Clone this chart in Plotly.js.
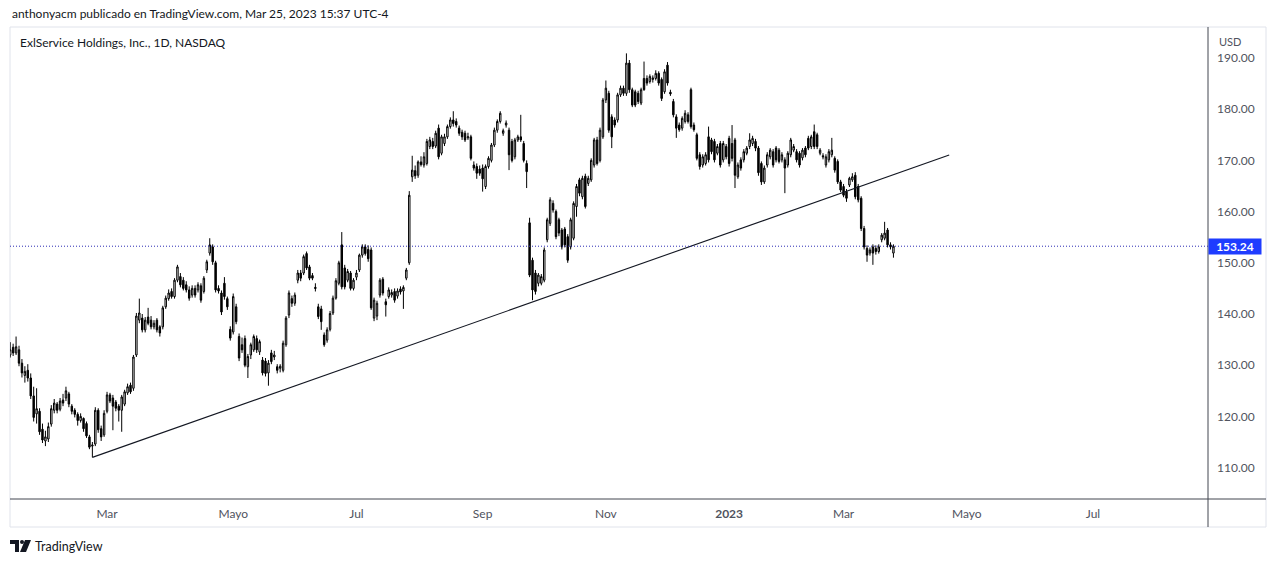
<!DOCTYPE html>
<html>
<head>
<meta charset="utf-8">
<script src="https://cdn.plot.ly/plotly-3.0.1.min.js"></script>
<style>
  html, body { margin:0; padding:0; background:#ffffff; }
  #chart { width:1274px; height:563px; position:absolute; left:0; top:0; }
  #logo { position:absolute; left:10px; top:540px; }
</style>
</head>
<body>
<div id="chart"></div>
<svg id="logo" width="22" height="12" viewBox="0 0 22 12">
  <path d="M0 0 H9 V12 H5 V4 H0 Z" fill="#131722"/>
  <circle cx="12" cy="2" r="2" fill="#131722"/>
  <path d="M15 0 H21 L16 12 H10 Z" fill="#131722"/>
</svg>
<script>
// ---------- DATA ----------
const HOLIDAYS = ['2022-01-17','2022-02-21','2022-04-15','2022-05-30','2022-06-20','2022-07-04',
  '2022-09-05','2022-11-24','2022-12-26','2023-01-02','2023-01-16','2023-02-20','2023-04-07',
  '2023-05-29','2023-06-19','2023-07-04'];
const FIRST_DAY = '2022-01-11';
const LAST_DAY = '2023-03-24';

const openP = [
 132.0,133.5,132.4,133.0,130.4,128.0,129.0,127.5,124.0,120.5,121.0,117.5,115.2,115.6,
 118.5,121.2,122.4,121.4,123.2,123.6,124.4,122.0,121.2,120.4,119.2,119.6,118.6,116.0,114.2,114.6,121.2,117.6,116.4,
 121.0,124.2,123.6,122.8,122.0,121.2,122.4,124.6,126.1,125.5,132.0,138.8,139.2,136.9,139.4,138.8,137.5,138.8,137.5,137.5,141.4,143.0,144.4,
 143.4,146.6,147.3,146.6,145.7,144.7,143.7,145.0,144.7,145.5,144.4,148.6,151.9,153.1,150.0,145.0,144.1,146.0,143.0,137.0,
 136.5,141.4,135.6,134.0,135.2,129.7,132.0,133.0,135.2,132.6,131.0,130.8,128.5,132.4,131.6,129.7,129.4,129.0,134.0,139.8,143.0,
 142.1,146.6,148.0,148.0,151.8,149.2,147.5,145.2,141.4,141.0,135.9,134.9,137.0,140.2,143.1,146.0,153.5,149.0,146.6,148.0,145.0,
 147.2,148.6,151.5,153.1,152.6,152.5,139.2,139.6,143.7,146.8,142.4,143.4,143.7,144.4,143.5,144.9,144.5,147.0,150.0,166.8,
 168.0,167.1,169.7,169.1,169.4,172.7,173.7,172.8,176.3,171.4,173.3,174.6,176.6,177.9,177.6,176.3,175.5,175.3,174.4,174.6,169.1,168.8,168.3,
 168.5,164.9,168.8,170.0,173.0,175.9,177.6,175.3,176.9,175.9,173.7,170.7,174.0,174.6,173.3,169.4,157.8,150.5,148.0,146.0,146.0,
 146.6,154.5,157.7,161.6,160.0,158.4,156.4,156.6,155.1,153.1,154.8,161.0,166.2,162.9,166.9,165.5,166.2,169.1,174.0,170.0,174.6,
 181.8,183.1,178.5,177.9,177.9,182.8,184.1,183.1,189.0,183.8,183.4,183.1,181.2,186.0,186.0,185.4,185.8,186.0,187.0,185.8,183.4,
 188.6,183.3,181.5,178.5,176.9,176.3,177.6,178.9,183.8,176.9,175.0,171.1,169.1,169.4,174.6,174.0,173.7,171.4,173.3,170.1,172.7,
 174.3,173.3,174.0,166.8,170.1,170.1,171.4,172.7,173.3,173.7,172.4,169.4,165.8,169.1,170.7,171.7,172.4,172.0,170.1,170.1,
 169.1,171.1,172.0,171.7,171.4,170.5,172.4,174.3,172.7,175.6,175.0,171.4,170.9,169.1,170.1,171.1,170.4,169.8,165.8,
 164.9,163.9,165.2,166.2,167.1,164.9,162.6,156.7,152.8,151.9,153.1,152.8,152.2,154.5,154.8,156.4,153.5,151.9
];
const highP = [
 134.5,134.2,135.6,133.8,131.2,129.8,130.2,128.4,125.8,125.5,121.6,118.6,117.2,118.8,
 122.2,123.4,122.8,123.6,124.4,125.8,124.8,122.4,121.6,120.8,120.6,119.8,119.0,116.4,115.0,121.8,121.6,118.2,121.2,
 124.8,124.6,124.2,123.2,122.4,124.2,125.2,126.4,126.6,132.0,140.2,143.0,140.0,139.4,141.2,139.6,138.8,139.2,137.8,141.6,143.6,144.8,145.0,
 147.0,149.6,148.0,147.2,146.4,145.4,145.6,145.6,146.2,146.0,147.4,150.6,154.8,153.6,150.4,145.6,144.6,147.2,143.4,137.6,
 144.0,142.0,136.2,135.4,135.8,132.2,134.4,136.0,135.8,135.0,131.6,131.4,131.0,133.0,132.8,130.2,130.2,134.8,139.6,144.6,143.6,
 144.2,148.6,148.6,151.6,152.2,149.6,148.0,146.0,142.0,141.6,136.4,137.4,140.6,143.6,147.0,150.4,156.0,149.6,148.8,148.4,147.0,
 148.6,151.8,153.6,153.6,153.4,153.0,143.2,142.6,147.0,147.2,143.0,145.2,144.8,145.0,145.0,145.4,145.6,149.0,164.0,170.9,
 169.0,170.0,170.8,171.6,174.2,174.6,174.4,175.8,177.0,175.0,175.2,177.0,178.4,179.6,178.2,176.8,176.0,175.8,175.4,175.0,169.8,169.4,169.0,
 169.2,169.2,170.8,173.4,176.4,178.0,179.6,176.2,177.8,176.4,174.2,174.4,175.0,178.9,173.8,170.0,158.8,151.0,148.6,148.0,147.8,
 153.0,158.8,162.8,162.2,160.4,158.8,156.8,157.0,155.6,158.8,162.0,165.4,166.6,167.0,167.4,167.0,170.4,174.4,174.6,176.4,182.2,
 185.6,183.6,179.0,178.4,183.2,184.6,184.6,190.9,189.6,184.2,183.8,183.6,184.2,189.3,186.6,186.8,186.6,187.6,187.4,186.2,187.8,
 189.2,183.8,182.0,179.0,177.4,178.6,179.8,179.4,184.2,177.4,175.4,171.6,171.2,171.6,176.6,174.4,174.2,173.2,173.8,173.8,173.2,
 174.8,176.9,174.4,169.6,170.6,172.2,172.8,175.3,174.8,174.2,172.8,169.8,169.0,171.6,172.4,172.2,172.8,172.4,171.6,170.6,
 171.8,174.4,173.2,172.2,171.8,172.4,172.8,174.8,175.0,177.0,175.4,172.4,171.4,171.2,172.2,174.4,170.8,170.2,166.2,
 165.4,164.4,166.8,167.5,167.7,165.4,163.0,157.2,153.4,153.0,153.6,153.4,153.6,155.8,158.0,156.8,154.0,153.6
];
const lowP = [
 131.5,131.8,132.0,129.8,127.6,126.6,126.8,123.4,119.0,118.6,116.4,114.8,114.2,115.0,
 118.0,120.6,120.6,121.0,122.0,123.0,121.8,120.4,119.8,118.2,118.8,117.0,115.8,113.6,112.0,114.2,116.8,115.2,116.0,
 120.6,122.6,117.3,121.0,119.0,117.0,122.0,124.2,124.4,125.0,131.6,138.2,136.4,136.4,137.8,137.0,137.0,136.4,135.6,137.0,141.0,142.6,143.0,
 143.0,146.2,145.2,144.6,144.2,142.6,143.2,143.2,144.2,142.2,144.0,148.0,151.4,149.6,144.2,144.0,139.8,142.8,140.8,134.8,
 136.0,138.0,130.8,132.4,129.6,127.5,131.2,132.6,132.4,132.0,128.0,127.8,126.0,130.2,131.0,128.4,128.6,128.6,133.6,139.2,141.4,
 141.6,146.0,146.4,147.6,148.6,146.6,146.6,144.4,139.0,136.9,133.6,134.4,136.6,139.8,142.8,145.6,144.8,144.8,146.2,144.6,144.6,
 146.6,148.2,151.0,151.4,150.2,140.8,138.6,138.8,143.2,143.6,139.5,143.0,143.2,142.2,143.0,143.8,141.0,146.6,149.6,165.8,
 166.4,166.6,168.8,168.6,169.0,172.2,172.2,172.4,170.2,171.0,172.8,174.2,176.2,176.6,176.4,174.8,174.0,173.6,174.0,170.0,168.0,166.4,167.0,
 163.9,164.4,168.4,169.6,172.6,175.4,177.2,174.8,176.4,168.1,169.6,170.2,173.6,173.6,169.6,164.6,147.2,142.7,143.8,145.4,145.6,
 146.2,154.0,157.2,159.8,154.6,155.2,152.6,153.0,150.0,152.6,154.4,159.0,163.0,162.4,160.6,165.0,165.8,168.6,169.0,169.6,174.2,
 181.2,175.4,172.4,176.4,177.4,182.4,182.6,182.6,183.2,180.4,180.4,181.0,180.8,183.6,184.6,185.0,185.2,185.6,184.6,181.6,183.0,
 184.6,182.6,178.4,174.4,175.6,175.8,177.2,177.2,176.2,175.6,170.0,168.2,168.6,169.0,169.6,171.2,169.6,171.0,168.6,169.6,170.2,
 168.8,169.8,164.6,166.4,168.0,169.6,171.0,172.2,172.8,171.8,167.0,165.2,165.4,168.6,170.2,168.6,169.6,169.4,169.6,163.6,
 168.6,170.6,171.6,169.6,168.6,170.0,170.6,172.0,172.2,172.2,172.2,171.0,170.2,168.6,169.6,170.6,167.6,165.4,163.8,
 162.8,161.9,164.8,165.8,162.4,161.8,156.2,152.6,150.2,151.4,149.6,151.6,151.8,154.0,154.4,153.0,152.6,151.0
];
const closeP = [
 133.0,132.4,133.6,130.4,128.5,128.8,127.5,124.0,119.8,121.5,117.0,115.4,116.0,118.0,
 121.5,122.6,121.2,123.0,122.6,125.0,122.4,121.0,120.4,119.2,120.0,117.6,116.2,114.0,114.4,121.2,117.4,116.0,120.6,
 124.2,123.0,122.0,121.6,121.2,123.8,124.8,125.8,124.8,131.6,139.6,140.2,136.9,138.8,138.2,137.5,138.2,136.9,136.3,141.2,143.1,144.1,143.4,
 146.6,149.2,145.7,145.0,144.7,143.1,145.0,143.7,145.7,142.7,147.0,150.2,153.5,150.2,144.7,144.5,140.4,143.4,141.4,135.3,
 143.4,138.5,131.4,133.0,130.0,131.7,134.0,135.6,133.0,134.6,128.5,128.4,130.4,130.7,132.0,129.0,129.8,134.3,139.2,144.1,142.1,
 143.7,148.0,147.0,151.2,149.0,147.0,147.0,145.0,139.5,138.5,134.0,136.9,140.1,143.1,146.5,150.0,145.3,145.3,148.3,145.0,146.6,
 148.0,151.5,153.1,151.8,150.8,141.2,142.7,142.1,146.6,144.1,141.8,144.7,144.2,142.7,144.5,144.3,145.2,148.6,163.2,168.1,
 167.0,169.7,169.2,170.7,173.7,174.0,172.7,175.3,170.7,174.6,174.6,176.6,177.9,177.2,176.9,175.3,174.6,174.0,174.6,170.4,168.5,167.5,167.5,
 166.4,168.8,170.4,173.0,175.9,177.6,179.2,175.8,177.3,171.1,170.0,174.0,174.6,174.0,170.0,167.8,147.6,144.7,144.4,147.6,147.3,
 152.5,158.4,162.3,160.3,155.1,155.8,153.1,153.5,150.5,158.4,161.6,164.9,163.6,166.5,161.0,166.5,170.0,174.0,169.4,175.9,181.8,
 184.1,175.9,174.6,176.9,182.8,184.1,183.1,189.0,183.8,180.8,180.8,181.5,183.8,183.8,185.1,186.4,186.1,187.0,185.1,182.1,187.3,
 185.1,183.0,178.9,176.3,176.0,178.2,179.2,177.6,176.6,176.0,170.4,168.8,170.7,171.1,170.1,171.7,170.1,172.7,169.1,173.3,170.7,
 169.4,170.4,167.1,169.1,168.5,171.7,172.4,174.0,174.3,172.4,167.6,165.8,168.5,171.1,172.0,169.1,170.1,169.8,171.1,168.5,
 171.4,174.0,172.7,170.1,169.1,172.0,171.1,172.4,174.6,172.7,172.7,172.0,170.7,170.7,171.7,172.0,168.1,165.8,164.2,
 163.2,162.6,166.5,166.8,162.9,162.3,156.7,153.1,151.5,152.5,151.9,152.2,153.1,155.4,155.8,153.5,153.1,153.24
];

const trendDates = ['2022-02-22 12:00', '2023-04-21 12:00'];
const trendPrices = [112.0, 171.05];

const lastPrice = 153.24;
const tickDates = ['2022-03-01 12:00','2022-05-02 12:00','2022-07-01 12:00','2022-09-01 12:00',
  '2022-11-01 12:00','2023-01-03 12:00','2023-03-01 12:00','2023-05-01 12:00','2023-07-03 12:00'];
const tickLabels = ['Mar','Mayo','Jul','Sep','Nov','<b>2023</b>','Mar','Mayo','Jul'];
const priceTicks = [110,120,130,140,150,160,170,180,190];

const headerText = 'anthonyacm publicado en TradingView.com, Mar 25, 2023 15:37 UTC-4';
const legendText = 'ExlService Holdings, Inc., 1D, NASDAQ';

// ---------- trading calendar ----------
function tradingDays(start, end, holidays) {
  const hol = new Set(holidays);
  const out = [];
  const [sy, sm, sd] = start.split('-').map(Number);
  const [ey, em, ed] = end.split('-').map(Number);
  let t = Date.UTC(sy, sm - 1, sd);
  const te = Date.UTC(ey, em - 1, ed);
  while (t <= te) {
    const d = new Date(t);
    const wd = d.getUTCDay();
    const s = d.toISOString().slice(0, 10);
    if (wd !== 0 && wd !== 6 && !hol.has(s)) out.push(s + ' 12:00');
    t += 86400000;
  }
  return out;
}
const dates = tradingDays(FIRST_DAY, LAST_DAY, HOLIDAYS);

// ---------- geometry (pixels -> paper) ----------
const W = 1274, H = 563;
const PL = 10, PR = 1208, PT = 27, PB = 499;
const px = v => (v - PL) / (PR - PL);
const py = v => (PB - v) / (PB - PT);

const FONT = 'Lato, "DejaVu Sans", sans-serif';

const traces = [
  {
    type: 'candlestick',
    x: dates, open: openP, high: highP, low: lowP, close: closeP,
    increasing: { line: { color: '#000000', width: 1 }, fillcolor: '#ffffff' },
    decreasing: { line: { color: '#000000', width: 1 }, fillcolor: '#000000' },
    whiskerwidth: 0,
    hoverinfo: 'skip',
    showlegend: false
  },
  {
    type: 'scatter', mode: 'lines',
    x: trendDates, y: trendPrices,
    line: { color: '#131722', width: 1.1 },
    hoverinfo: 'skip', showlegend: false
  }
];

const layout = {
  width: W, height: H,
  margin: { l: PL, r: W - PR, t: PT, b: H - PB },
  paper_bgcolor: '#ffffff',
  plot_bgcolor: '#ffffff',
  font: { family: FONT, color: '#131722' },
  showlegend: false,
  xaxis: {
    type: 'date',
    range: ['2022-01-11 10:20', '2023-08-28 16:48'],
    rangebreaks: [{ bounds: ['sat', 'mon'] }, { values: HOLIDAYS }],
    rangeslider: { visible: false },
    tickmode: 'array', tickvals: tickDates, ticktext: tickLabels,
    showgrid: false, zeroline: false, showline: false,
    ticks: '', ticklabelstandoff: 6,
    tickfont: { family: FONT, size: 12, color: '#50535e' },
    fixedrange: true
  },
  yaxis: {
    side: 'right',
    range: [103.87, 196.05],
    tickmode: 'array', tickvals: priceTicks,
    tickformat: '.2f',
    showgrid: false, zeroline: false, showline: false,
    ticks: '', ticklabelstandoff: 8,
    tickfont: { family: FONT, size: 12, color: '#50535e' },
    fixedrange: true
  },
  shapes: [
    { type: 'rect', xref: 'paper', yref: 'paper',
      x0: px(10), x1: px(1266), y0: py(527), y1: py(27),
      line: { color: '#e0e3eb', width: 1 }, fillcolor: 'rgba(0,0,0,0)', layer: 'below' },
    { type: 'line', xref: 'paper', yref: 'paper',
      x0: px(10), x1: px(1266), y0: 0, y1: 0, line: { color: '#434651', width: 1 } },
    { type: 'line', xref: 'paper', yref: 'paper',
      x0: 1, x1: 1, y0: py(527), y1: 1, line: { color: '#434651', width: 1 } },
    { type: 'line', xref: 'paper', yref: 'y',
      x0: 0, x1: 1, y0: lastPrice, y1: lastPrice,
      line: { color: '#2b2bb5', width: 1, dash: '1px,2px' } }
  ],
  annotations: [
    { xref: 'paper', yref: 'paper', x: px(10), y: py(13), xanchor: 'left', yanchor: 'middle',
      text: headerText, showarrow: false, font: { family: FONT, size: 12, color: '#131722' } },
    { xref: 'paper', yref: 'paper', x: px(18), y: py(42), xanchor: 'left', yanchor: 'middle',
      text: legendText, showarrow: false, font: { family: FONT, size: 12, color: '#131722' } },
    { xref: 'paper', yref: 'paper', x: px(1217), y: py(41), xanchor: 'left', yanchor: 'middle',
      text: 'USD', showarrow: false, font: { family: FONT, size: 11, color: '#50535e' } },
    { xref: 'paper', yref: 'y', x: 1, y: lastPrice, xanchor: 'left', yanchor: 'middle',
      text: '<b>' + lastPrice.toFixed(2) + '</b>', showarrow: false,
      bgcolor: '#1e3cff', borderpad: 1, width: 50, height: 13, align: 'center',
      font: { family: FONT, size: 12, color: '#ffffff' } },
    { xref: 'paper', yref: 'paper', x: px(33), y: py(546), xanchor: 'left', yanchor: 'middle',
      text: 'TradingView', showarrow: false, font: { family: FONT, size: 12.5, color: '#131722' } }
  ]
};

Plotly.newPlot('chart', traces, layout, { staticPlot: true, displayModeBar: false });
</script>
</body>
</html>
